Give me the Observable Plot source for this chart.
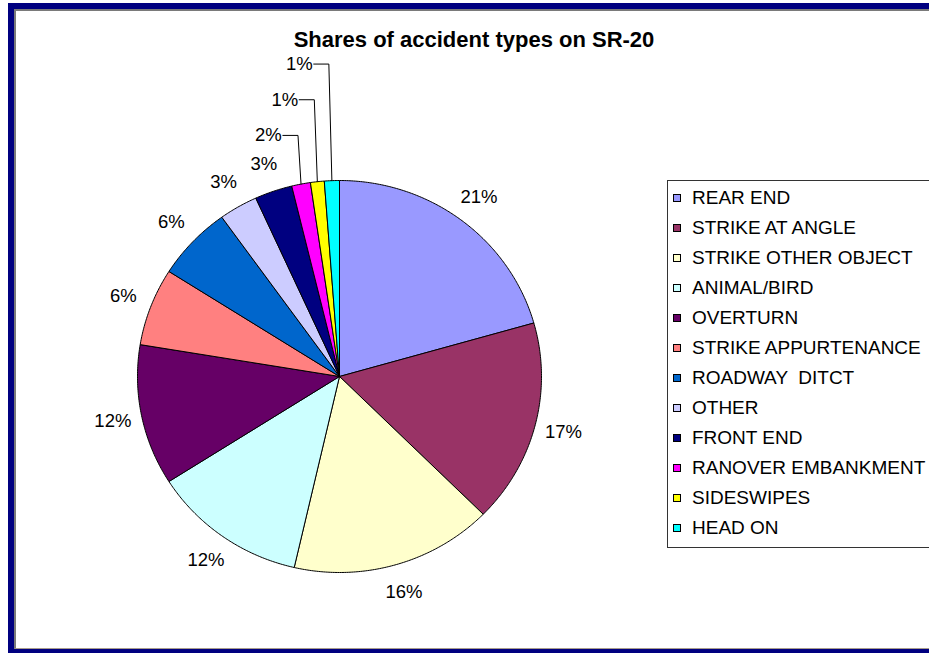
<!DOCTYPE html>
<html><head><meta charset="utf-8">
<script src="https://cdn.jsdelivr.net/npm/d3@7"></script>
<script src="https://cdn.jsdelivr.net/npm/@observablehq/plot@0.6"></script>
<style>
body{margin:0;background:#fff;font-family:Arial,"Liberation Sans",sans-serif;}
#wrap{position:relative;width:929px;height:653px;overflow:hidden;background:#fff;}
.navy{position:absolute;left:8px;top:3px;width:1000px;height:650px;box-sizing:border-box;border-left:6px solid #000080;border-top:6px solid #000080;border-bottom:4px solid #000080;}
.grey{position:absolute;left:14px;top:9px;width:1000px;height:640px;box-sizing:border-box;border-left:2px solid #7a7a7a;border-top:2px solid #7a7a7a;border-bottom:1px solid #a89c8c;}
#title{position:absolute;left:0;top:29px;width:948px;text-align:center;font:bold 22px Arial,"Liberation Sans",sans-serif;line-height:22px;color:#000;}
#legend{position:absolute;left:667px;top:180px;width:320px;height:368px;box-sizing:border-box;border:1px solid #333;padding-top:2px;background:#fff;}
#legend .row{height:30px;display:flex;align-items:center;font-size:19px;white-space:pre;color:#000;}
#legend .sw{width:6px;height:6px;border:1px solid #000;margin-left:5px;margin-right:11px;flex:none;}
#chart{position:absolute;left:0;top:0;}
</style></head>
<body>
<div id="wrap">
  <div class="navy"></div>
  <div class="grey"></div>
  <div id="chart"></div>
  <div id="title"></div>
  <div id="legend"></div>
</div>
<script>
const title = "Shares of accident types on SR-20";
const categories = ["REAR END","STRIKE AT ANGLE","STRIKE OTHER OBJECT","ANIMAL/BIRD","OVERTURN","STRIKE APPURTENANCE","ROADWAY  DITCT","OTHER","FRONT END","RANOVER EMBANKMENT","SIDESWIPES","HEAD ON"];
const shares = [20.6, 16.8, 16.2, 12.4, 11.6, 6.4, 6.1, 3.1, 3.0, 1.5, 1.1, 1.2];
const colors = ["#9999FF","#993366","#FFFFCC","#CCFFFF","#660066","#FF8080","#0066CC","#CCCCFF","#000080","#FF00FF","#FFFF00","#00FFFF"];

const total = d3.sum(shares);
let acc = 0;
const slices = categories.map((name, i) => {
  const a0 = acc / total * 2 * Math.PI;
  acc += shares[i];
  const a1 = acc / total * 2 * Math.PI;
  const share = shares[i] * 100 / total;
  return {name, a0, a1, mid: (a0 + a1) / 2, share, pct: Math.round(share) + "%"};
});

// slice polygons in unit coordinates (clockwise from top)
const poly = [];
for (const s of slices) {
  poly.push({name: s.name, x: 0, y: 0});
  const n = Math.max(2, Math.ceil((s.a1 - s.a0) / (Math.PI / 360)));
  for (let k = 0; k <= n; k++) {
    const a = s.a0 + (s.a1 - s.a0) * k / n;
    poly.push({name: s.name, x: Math.sin(a), y: Math.cos(a)});
  }
  poly.push({name: s.name, x: 0, y: 0});
}

// labels: plain ones around the rim, small slices get leader lines stacked above
const plainLabels = [];
const leaderLabels = [];
const leaderLines = [];
let k = 0;
for (const s of slices) {
  if (s.share < 2) {
    const rx = Math.sin(s.mid), ry = Math.cos(s.mid);
    const ly = 1.23 + 0.182 * k;
    const bx = rx - 0.015, ex = bx - 0.075;
    leaderLines.push({name: s.name, x: rx, y: ry}, {name: s.name, x: bx, y: ly}, {name: s.name, x: ex, y: ly});
    leaderLabels.push({x: ex - 0.005, y: ly, text: s.pct});
    k++;
  } else {
    plainLabels.push({x: 1.145 * Math.sin(s.mid), y: 1.145 * Math.cos(s.mid), text: s.pct});
  }
}

const font = 'Arial, "Liberation Sans", sans-serif';
const plot = Plot.plot({
  width: 929,
  height: 653,
  marginLeft: 137,
  marginRight: 388,
  marginTop: 180,
  marginBottom: 81,
  style: {background: "transparent", overflow: "visible", fontFamily: font},
  x: {domain: [-1, 1], axis: null},
  y: {domain: [-1, 1], axis: null},
  color: {domain: categories, range: colors},
  marks: [
    Plot.line(poly, {x: "x", y: "y", z: "name", fill: "name", stroke: "#000", strokeWidth: 1, strokeLinejoin: "round"}),
    Plot.line(leaderLines, {x: "x", y: "y", z: "name", stroke: "#000", strokeWidth: 1}),
    Plot.text(plainLabels, {x: "x", y: "y", text: "text", fontSize: 18.5, fill: "#000", fontFamily: font}),
    Plot.text(leaderLabels, {x: "x", y: "y", text: "text", fontSize: 18.5, fill: "#000", textAnchor: "end", fontFamily: font})
  ]
});
document.getElementById("chart").appendChild(plot);
document.getElementById("title").textContent = title;

const legend = document.getElementById("legend");
categories.forEach((c, i) => {
  const row = document.createElement("div");
  row.className = "row";
  const sw = document.createElement("span");
  sw.className = "sw";
  sw.style.background = colors[i];
  const t = document.createElement("span");
  t.textContent = c;
  row.appendChild(sw);
  row.appendChild(t);
  legend.appendChild(row);
});
</script>
</body></html>
